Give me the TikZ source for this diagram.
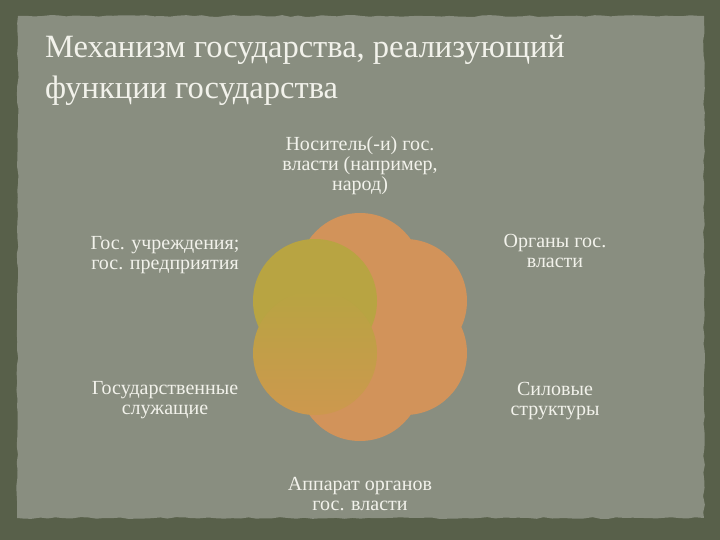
\documentclass[tikz,border=0pt]{standalone}
\usepackage{fontspec}
\setmainfont{Liberation Serif}
\usetikzlibrary{decorations.pathmorphing}
\definecolor{outerc}{RGB}{88,96,74}
\definecolor{paperc}{RGB}{137,142,128}
\definecolor{orng}{RGB}{210,147,90}
\definecolor{ylw}{RGB}{184,164,66}
\definecolor{mixc}{RGB}{205,152,78}
\definecolor{txt}{RGB}{242,242,235}
\begin{document}
\begin{tikzpicture}[x=1pt,y=-1pt,
  lbl/.style={text=txt, font=\fontsize{20}{20}\selectfont, align=center, inner sep=0pt},
  ttl/.style={text=txt, font=\fontsize{32.5}{41}\selectfont, align=left, inner sep=0pt, anchor=base west}]
\useasboundingbox (0,0) rectangle (720,540);
\pgfmathsetseed{7}
\fill[outerc] (0,0) rectangle (720,540);
\fill[paperc, decorate, decoration={random steps,segment length=8pt,amplitude=0.9pt}]
  (18,16) -- (704,16) -- (704,518) -- (17,518) -- cycle;
% title
\node[ttl] (t1) at (45,58) {Механизм государства, реализующий};
\node[ttl] (t2) at (45,99) {функции государства};
% flower
\fill[orng] (360,275) circle (62);
\fill[orng] (405,301) circle (62);
\fill[orng] (405,353) circle (62);
\fill[orng] (360,379) circle (62);
\fill[ylw] (315,301) circle (62);
\shade[top color=ylw, middle color=ylw, bottom color=mixc] (315,353) circle (62);
% labels
\node[lbl] (n1) at (360,166) {Носитель(-и) гос.\\власти (например,\\народ)};
\node[lbl] (n2) at (165,255) {Гос. учреждения;\\гос. предприятия};
\node[lbl] (n3) at (555,251) {Органы гос.\\власти};
\node[lbl] (n4) at (165,400) {Государственные\\служащие};
\node[lbl] (n5) at (555,401) {Силовые\\структуры};
\node[lbl] (n6) at (360,494) {Аппарат органов\\гос. власти};
\end{tikzpicture}
\end{document}
